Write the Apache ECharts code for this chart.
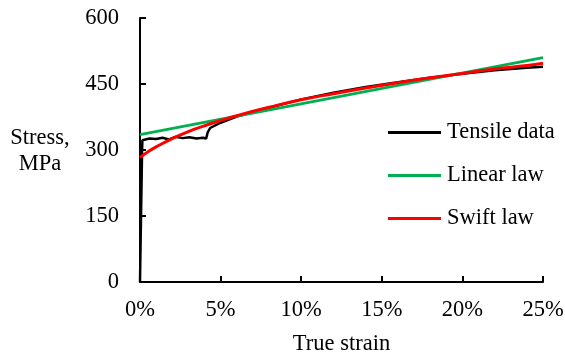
<!DOCTYPE html>
<html>
<head>
<meta charset="utf-8">
<script src="https://cdn.jsdelivr.net/npm/echarts@6/dist/echarts.min.js"></script>
<style>
  html, body { margin: 0; padding: 0; background: #fff; }
  #chart { width: 565px; height: 356px; }
</style>
</head>
<body>
<div id="chart"></div>
<script>
// true strain in %, stress in MPa
const tensileStrain = [0, 0.13, 0.15, 0.2, 0.58, 1.0, 1.4, 1.8, 2.2, 2.65, 3.06, 3.5, 3.9, 4.1, 4.2, 4.35, 5, 6, 8, 10, 12, 14, 16, 18, 20, 22, 24, 25];
const tensileStress = [0, 300, 322, 323, 326, 325, 328, 324, 330, 327, 329, 326, 328, 326, 340, 350, 362, 376, 396, 415, 430, 443, 454, 464, 473, 481, 487, 489];

const linearStrain = [0, 25];
const linearStress = [335, 510];

const swiftStrain = [0, 0.5, 1, 2, 3, 4, 5, 6, 8, 10, 12, 14, 16, 18, 20, 22, 24, 25];
const swiftStress = [283, 296, 307, 326, 342, 355, 367, 378, 397, 414, 428, 441, 453, 464, 474, 484, 492, 497];

const seriesNames = ['Tensile data', 'Linear law', 'Swift law'];
const seriesColors = ['#000000', '#00B050', '#FF0000'];

const yTicks = [0, 150, 300, 450, 600];

const FONT = 'Liberation Serif';

function pairs(xs, ys) {
  return xs.map((x, i) => [x, ys[i]]);
}

const chart = echarts.init(document.getElementById('chart'));

const options = {
  animation: false,
  textStyle: { fontFamily: FONT, color: '#000' },
  grid: { left: 140, right: 22, top: 18, bottom: 74, containLabel: false, outerBoundsMode: 'none' },
  xAxis: {
    type: 'value',
    min: 0,
    max: 25,
    interval: 5,
    name: 'True strain',
    nameLocation: 'middle',
    nameGap: 51,
    nameTextStyle: { fontFamily: FONT, fontSize: 22.5, color: '#000' },
    axisLine: { show: true, lineStyle: { color: '#000', width: 2 } },
    axisTick: { show: true, inside: true, length: 6, lineStyle: { color: '#000', width: 2 } },
    axisLabel: { formatter: '{value}%', fontFamily: FONT, fontSize: 22.5, color: '#000', margin: 17 },
    splitLine: { show: false }
  },
  yAxis: {
    type: 'value',
    min: yTicks[0],
    max: yTicks[yTicks.length - 1],
    interval: yTicks[1] - yTicks[0],
    axisLine: { show: true, lineStyle: { color: '#000', width: 2 } },
    axisTick: { show: true, inside: true, length: 6, lineStyle: { color: '#000', width: 2 } },
    axisLabel: { fontFamily: FONT, fontSize: 22.5, color: '#000', margin: 21 },
    splitLine: { show: false }
  },
  graphic: [
    {
      type: 'text',
      x: 40,
      y: 138,
      style: {
        text: 'Stress,',
        font: '22.5px "' + FONT + '"',
        fill: '#000',
        align: 'center',
        verticalAlign: 'middle'
      }
    },
    {
      type: 'text',
      x: 40,
      y: 164,
      style: {
        text: 'MPa',
        font: '22.5px "' + FONT + '"',
        fill: '#000',
        align: 'center',
        verticalAlign: 'middle'
      }
    }
  ],
  legend: {
    orient: 'vertical',
    left: 383,
    top: 116,
    itemWidth: 53,
    itemHeight: 3,
    itemGap: 20,
    data: seriesNames.map(n => ({ name: n, icon: 'rect' })),
    textStyle: { fontFamily: FONT, fontSize: 22.5, color: '#000', lineHeight: 22.5, padding: [0, 0, 0, 1] }
  },
  series: [
    {
      name: seriesNames[0],
      type: 'line',
      data: pairs(tensileStrain, tensileStress),
      showSymbol: false,
      symbol: 'none',
      lineStyle: { color: seriesColors[0], width: 2.5 },
      itemStyle: { color: seriesColors[0] }
    },
    {
      name: seriesNames[1],
      type: 'line',
      data: pairs(linearStrain, linearStress),
      showSymbol: false,
      symbol: 'none',
      lineStyle: { color: seriesColors[1], width: 3 },
      itemStyle: { color: seriesColors[1] }
    },
    {
      name: seriesNames[2],
      type: 'line',
      data: pairs(swiftStrain, swiftStress),
      smooth: true,
      showSymbol: false,
      symbol: 'none',
      lineStyle: { color: seriesColors[2], width: 3 },
      itemStyle: { color: seriesColors[2] }
    }
  ]
};

chart.setOption(options);
</script>
</body>
</html>
